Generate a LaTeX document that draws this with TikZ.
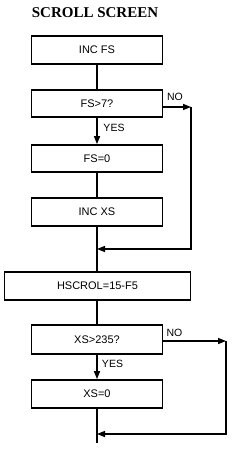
\documentclass[tikz,border=0pt]{standalone}
\usepackage{fontspec}
\setmainfont{Liberation Serif}
\newfontfamily\flowsans{Liberation Sans}
\usetikzlibrary{arrows.meta}
\begin{document}
\begin{tikzpicture}[x=1pt,y=-1pt,
  procbox/.style={draw,line width=1.7pt,minimum width=131pt,minimum height=28pt,inner sep=0pt,font=\flowsans\fontsize{11}{13}\selectfont},
  wide/.style={minimum width=186pt},
  flow/.style={line width=1.4pt},
  arr/.style={flow,-{Triangle[length=8pt,width=6pt]}},
  lbl/.style={font=\flowsans\fontsize{10.5}{12}\selectfont,inner sep=0pt}]
\useasboundingbox (0,0) rectangle (235,462);
\node[font=\bfseries\fontsize{15}{17}\selectfont,inner sep=0pt] (title) at (95,13) {SCROLL SCREEN};
\node[procbox] (b1) at (97,50) {INC FS};
\node[procbox,minimum height=27pt] (b2) at (97,103.5) {FS>7?};
\node[procbox,minimum height=27pt] (b3) at (97,158.5) {FS=0};
\node[procbox] (b4) at (97,212) {INC XS};
\node[procbox,wide] (b5) at (97.5,286) {HSCROL=15-F5};
\node[procbox,minimum height=29pt] (b6) at (97,339.5) {XS>235?};
\node[procbox] (b7) at (97,394) {XS=0};
\coordinate (c1) at (191,107);
\coordinate (c2) at (191,249);
\coordinate (j1) at (97,249);
\coordinate (c3) at (226,341);
\coordinate (c4) at (226,434);
\coordinate (j2) at (97,434);
\coordinate (end) at (97,443);
\draw[flow] (b1.south) -- (b2.north);
\draw[arr] (b2.east |- c1) -- (c1);
\draw[arr] (c1) -- (c2) -- (j1);
\draw[arr] (b2.south) -- (b3.north);
\draw[flow] (b3.south) -- (b4.north);
\draw[flow] (b4.south) -- (b4.south |- b5.north);
\draw[flow] (b5.south -| b6.north) -- (b6.north);
\draw[arr] (b6.east |- c3) -- (c3);
\draw[arr] (c3) -- (c4) -- (j2);
\draw[arr] (b6.south) -- (b7.north);
\draw[flow] (b7.south) -- (end);
\node[lbl] (no1) at (175,97) {NO};
\node[lbl] (yes1) at (114,128) {YES};
\node[lbl] (no2) at (174.5,332.5) {NO};
\node[lbl] (yes2) at (112.5,363.5) {YES};
\end{tikzpicture}
\end{document}
